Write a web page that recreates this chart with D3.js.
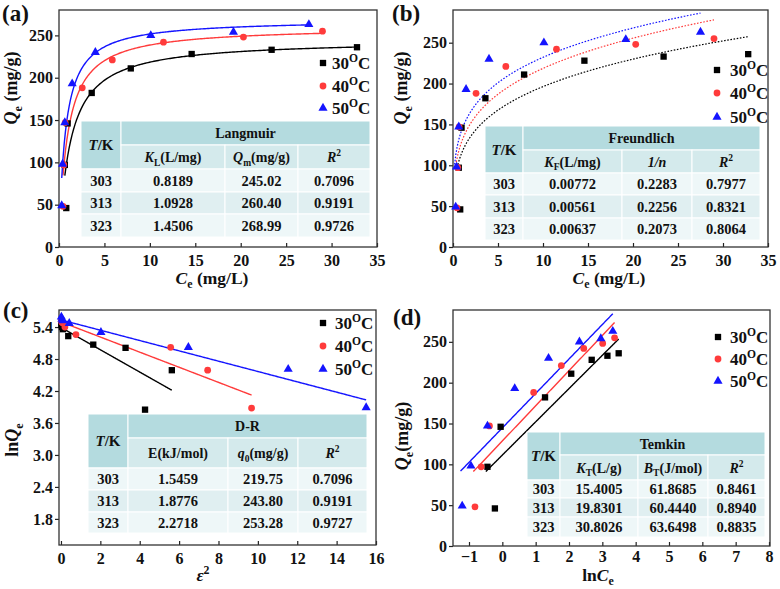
<!DOCTYPE html>
<html>
<head>
<meta charset="utf-8">
<title>Isotherm models</title>
<script src="https://d3js.org/d3.v7.min.js"></script>
<style>
  body { margin: 0; background: #fff; }
  text { font-family: "Liberation Serif", "Times New Roman", serif; font-weight: bold; fill: #111; }
</style>
</head>
<body>
<svg width="780" height="589"></svg>
<script>
// ---- data ----
var temps = ["30", "40", "50"];
var tk = ["303", "313", "323"];

// equilibrium data (Ce mg/L, Qe mg/g)
var ce30 = [0.80, 0.64, 0.95, 3.6, 7.9, 14.6, 23.4, 32.8];
var qe30 = [46, 97, 146, 182, 211, 228, 233, 236];
var ce40 = [0.44, 0.53, 0.68, 2.56, 5.87, 11.5, 20.3, 29.0];
var qe40 = [48, 97, 147, 188, 221, 242, 248, 255];
var ce50 = [0.30, 0.39, 0.64, 1.45, 4.0, 10.1, 19.2, 27.5];
var qe50 = [49, 98, 147, 193, 230, 250, 254, 263];

// D-R plot points (eps^2, lnQe)
var eps30 = [4.27, 5.63, 3.28, 1.64, 0.37, 0.10, 0.05, 0.02];
var lnq30 = [3.85, 4.59, 5.01, 5.07, 5.23, 5.36, 5.40, 5.44];
var eps40 = [9.68, 7.45, 5.57, 0.76, 0.20, 0.07, 0.04, 0.02];
var lnq40 = [3.88, 4.59, 5.02, 5.26, 5.40, 5.48, 5.50, 5.53];
var eps50 = [15.5, 11.54, 6.47, 2.03, 0.42, 0.10, 0.05, 0.02];
var lnq50 = [3.89, 4.61, 5.02, 5.30, 5.47, 5.52, 5.55, 5.59];

// table values
var langKL = ["0.8189", "1.0928", "1.4506"];
var langQm = ["245.02", "260.40", "268.99"];
var langR2 = ["0.7096", "0.9191", "0.9726"];
var frKF = ["0.00772", "0.00561", "0.00637"];
var frN = ["0.2283", "0.2256", "0.2073"];
var frR2 = ["0.7977", "0.8321", "0.8064"];
var drE = ["1.5459", "1.8776", "2.2718"];
var drQ0 = ["219.75", "243.80", "253.28"];
var drR2 = ["0.7096", "0.9191", "0.9727"];
var tmKT = ["15.4005", "19.8301", "30.8026"];
var tmBT = ["61.8685", "60.4440", "63.6498"];
var tmR2 = ["0.8461", "0.8940", "0.8835"];
// Freundlich curve prefactor as drawn (mg/g)
var frCurveK = [116, 130, 144];

var colors = ["#000000", "#ff3b3b", "#1414ff"];
var shapes = [d3.symbolSquare, d3.symbolCircle, d3.symbolTriangle];
var shapeSize = [40, 36, 36];

var svg = d3.select("svg");
var R = 8.314;

function richText(sel, parts, size) {
  // parts: [text, style] style: i, sub, sup
  var shift = 0;
  parts.forEach(function(p) {
    var ts = sel.append("tspan").text(p[0]);
    var st = p[1] || "";
    var target = 0;
    if (st.indexOf("sub") >= 0) target = size * 0.25;
    if (st.indexOf("sup") >= 0) target = -size * 0.42;
    ts.attr("dy", target - shift);
    shift = target;
    if (st.indexOf("sub") >= 0 || st.indexOf("sup") >= 0) ts.style("font-size", (size * 0.68) + "px");
    if (st.indexOf("i") === 0) ts.style("font-style", "italic");
  });
  return sel;
}

function makePanel(cfg) {
  var x = d3.scaleLinear().domain(cfg.xd).range([cfg.l, cfg.r]);
  var y = d3.scaleLinear().domain(cfg.yd).range([cfg.b, cfg.t]);
  var g = svg.append("g");

  var gx = g.append("g").attr("transform", `translate(0,${cfg.b})`)
    .call(d3.axisBottom(x).tickValues(cfg.xt).tickSizeInner(-4).tickSizeOuter(0)
      .tickPadding(cfg.xpad || 8).tickFormat(cfg.xf || d3.format("d")));
  var gy = g.append("g").attr("transform", `translate(${cfg.l},0)`)
    .call(d3.axisLeft(y).tickValues(cfg.yt).tickSize(4).tickPadding(2).tickFormat(cfg.yf || d3.format("d")));
  [gx, gy].forEach(function(a) {
    a.select(".domain").remove();
    a.selectAll("line").attr("stroke", "#222").attr("stroke-width", 1.2);
    a.selectAll("text").style("font-size", "16px").attr("fill", "#111")
      .style("font-family", "'Liberation Serif', serif").style("font-weight", "bold");
  });

  g.append("rect").attr("x", cfg.l).attr("y", cfg.t)
    .attr("width", cfg.r - cfg.l).attr("height", cfg.b - cfg.t)
    .attr("fill", "none").attr("stroke", "#333").attr("stroke-width", 1.3);

  // panel tag
  g.append("text").attr("x", cfg.tag[1]).attr("y", cfg.tag[2]).style("font-size", "23px").text(cfg.tag[0]);

  // axis titles
  richText(g.append("text").attr("x", cfg.xl[0]).attr("y", cfg.xl[1]).attr("text-anchor", "middle")
    .style("font-size", "17.5px"), cfg.xl[2], 17.5);
  richText(g.append("text").attr("transform", `translate(${cfg.yl[0]},${cfg.yl[1]}) rotate(-90)`)
    .attr("text-anchor", "middle").style("font-size", "18px"), cfg.yl[2], 18);

  return {x: x, y: y, g: g};
}

function drawTable(p, cx, ry, title, heads, cols) {
  var head = "#b4dbdf", sub = "#d4eaec", light = "#eef7f8", alt = "#e0eff1";
  var g = p.g.append("g");
  function cell(x0, y0, x1, y1, f) {
    g.append("rect").attr("x", x0).attr("y", y0).attr("width", x1 - x0).attr("height", y1 - y0)
      .attr("fill", f).attr("stroke", "#fff").attr("stroke-width", 1);
  }
  cell(cx[0], ry[0], cx[1], ry[2], head);
  cell(cx[1], ry[0], cx[4], ry[1], head);
  for (var j = 1; j < 4; j++) cell(cx[j], ry[1], cx[j + 1], ry[2], sub);
  for (var i = 0; i < 3; i++)
    for (var k = 0; k < 4; k++) cell(cx[k], ry[i + 2], cx[k + 1], ry[i + 3], i === 1 ? alt : light);

  g.append("text").attr("x", (cx[1] + cx[4]) / 2).attr("y", (ry[0] + ry[1]) / 2 + 5)
    .attr("text-anchor", "middle").style("font-size", "14px").text(title);
  richText(g.append("text").attr("x", (cx[0] + cx[1]) / 2).attr("y", (ry[0] + ry[2]) / 2 + 5)
    .attr("text-anchor", "middle").style("font-size", "15px"), [["T", "i"], ["/K"]], 15);
  heads.forEach(function(h, j) {
    richText(g.append("text").attr("x", (cx[j + 1] + cx[j + 2]) / 2).attr("y", (ry[1] + ry[2]) / 2 + 5)
      .attr("text-anchor", "middle").style("font-size", "14px"), h, 14);
  });
  var all = [tk].concat(cols);
  for (var r = 0; r < 3; r++) {
    all.forEach(function(c, j) {
      g.append("text").attr("x", (cx[j] + cx[j + 1]) / 2).attr("y", (ry[r + 2] + ry[r + 3]) / 2 + 5)
        .attr("text-anchor", "middle").style("font-size", "14.5px").text(c[r]);
    });
  }
}

function drawPoints(p, xs, ys, s) {
  p.g.append("g").selectAll("path").data(d3.range(xs.length)).join("path")
    .attr("transform", function(i) { return `translate(${p.x(xs[i])},${p.y(ys[i])})`; })
    .attr("d", d3.symbol().type(shapes[s]).size(shapeSize[s]))
    .attr("fill", colors[s]);
}

function drawCurve(p, pts, s, dashed) {
  p.g.append("path").datum(pts)
    .attr("d", d3.line().x(function(d) { return p.x(d[0]); }).y(function(d) { return p.y(d[1]); }))
    .attr("fill", "none").attr("stroke", colors[s]).attr("stroke-width", dashed ? 1.2 : 1.4)
    .attr("stroke-dasharray", dashed ? "1.6,1.6" : null);
}

function sampleCurve(a, b, f) {
  var out = [];
  for (var i = 0; i <= 200; i++) {
    var v = a + (b - a) * i / 200;
    out.push([v, f(v)]);
  }
  return out;
}

function drawLegend(p, mx, tx, ys) {
  temps.forEach(function(t, s) {
    p.g.append("path").attr("transform", `translate(${mx},${ys[s]})`)
      .attr("d", d3.symbol().type(shapes[s]).size(shapeSize[s])).attr("fill", colors[s]);
    richText(p.g.append("text").attr("x", tx).attr("y", ys[s] + 6).style("font-size", "17px"),
      [[t], ["O", "sup"], ["C"]], 17);
  });
}

var ceAll = [ce30, ce40, ce50], qeAll = [qe30, qe40, qe50];
var epsAll = [eps30, eps40, eps50], lnqAll = [lnq30, lnq40, lnq50];
var qeLabel = [["Q", "i"], ["e", "sub"], [" (mg/g)"]];
var ceLabel = [["C", "i"], ["e", "sub"], [" (mg/L)"]];
var ceTicks = [0, 5, 10, 15, 20, 25, 30, 35];
var qeTicks = [0, 50, 100, 150, 200, 250];

// (a) Langmuir
var pa = makePanel({l: 59, r: 377, t: 10, b: 247, xd: [0, 35], yd: [0, 280], xt: ceTicks, yt: qeTicks,
  tag: ["(a)", 2, 21], xl: [212, 284, ceLabel], yl: [17, 88, qeLabel]});
[0, 1, 2].forEach(function(s) {
  var kl = +langKL[s], qm = +langQm[s];
  drawCurve(pa, sampleCurve(d3.min(ceAll[s]), d3.max(ceAll[s]), function(c) { return qm * kl * c / (1 + kl * c); }), s);
});
drawTable(pa, [81, 121, 225, 298, 370], [121, 145, 169, 192, 214, 237], "Langmuir",
  [[["K", "i"], ["L", "sub"], ["(L/mg)"]], [["Q", "i"], ["m", "sub"], ["(mg/g)"]], [["R", "i"], ["2", "sup"]]],
  [langKL, langQm, langR2]);
[0, 1, 2].forEach(function(s) { drawPoints(pa, ceAll[s], qeAll[s], s); });
drawLegend(pa, 323, 332, [63, 86, 108]);

// (b) Freundlich
var pb = makePanel({l: 453, r: 768, t: 10, b: 247, xd: [0, 35], yd: [0, 290], xt: ceTicks, yt: qeTicks,
  tag: ["(b)", 392, 21], xl: [609, 284, ceLabel], yl: [407, 88, qeLabel]});
[0, 1, 2].forEach(function(s) {
  var k = frCurveK[s], n = +frN[s];
  drawCurve(pb, sampleCurve(d3.min(ceAll[s]) * 0.6, d3.max(ceAll[s]), function(c) { return k * Math.pow(c, n); }), s, true);
});
drawTable(pb, [485, 523, 622, 692, 760], [126, 150, 173, 195, 218, 240], "Freundlich",
  [[["K", "i"], ["F", "sub"], ["(L/mg)"]], [["1/n", "i"]], [["R", "i"], ["2", "sup"]]],
  [frKF, frN, frR2]);
[0, 1, 2].forEach(function(s) { drawPoints(pb, ceAll[s], qeAll[s], s); });
drawLegend(pb, 717, 730, [70, 93, 117]);

// (c) D-R
var pc = makePanel({l: 59, r: 376, t: 310, b: 545, xd: [-0.1, 16], yd: [1.31, 5.72],
  xt: [0, 2, 4, 6, 8, 10, 12, 14, 16], yt: [1.8, 2.4, 3.0, 3.6, 4.2, 4.8, 5.4], yf: d3.format(".1f"),
  tag: ["(c)", 3, 318], xl: [203, 581, [["ε", "i"], ["2", "sup"]]], yl: [18, 440, [["ln"], ["Q", "i"], ["e", "sub"]]]});
[0, 1, 2].forEach(function(s) {
  var lnq0 = Math.log(+drQ0[s]), beta = 1 / (2 * Math.pow(+drE[s], 2));
  drawCurve(pc, sampleCurve(0, d3.max(epsAll[s]), function(e) { return lnq0 - beta * e; }), s);
});
drawTable(pc, [88, 128, 228, 298, 367], [414, 438, 468, 490, 512, 533], "D-R",
  [[["E(kJ/mol)"]], [["q", "i"], ["0", "sub"], ["(mg/g)"]], [["R", "i"], ["2", "sup"]]],
  [drE, drQ0, drR2]);
[0, 1, 2].forEach(function(s) { drawPoints(pc, epsAll[s], lnqAll[s], s); });
drawLegend(pc, 323, 335, [323, 346, 369]);

// (d) Temkin
var pd = makePanel({l: 453, r: 770, t: 310, b: 546, xd: [-1.48, 8.03], yd: [0, 289],
  xt: d3.range(-1, 9), yt: qeTicks, xpad: 5,
  tag: ["(d)", 393, 325], xl: [598, 581, [["ln"], ["C", "i"], ["e", "sub"]]], yl: [408, 436, [["Q", "i"], ["e", "sub"], ["(mg/g)"]]]});
var lnCeAll = ceAll.map(function(a) { return a.map(function(c) { return Math.log(c); }); });
[0, 1, 2].forEach(function(s) {
  var T = +tk[s], b = R * T / +tmBT[s], a = b * Math.log(+tmKT[s]);
  drawCurve(pd, sampleCurve(d3.min(lnCeAll[s]) - 0.05, d3.max(lnCeAll[s]), function(v) { return a + b * v; }), s);
});
drawTable(pd, [527, 560, 638, 708, 765], [432, 455, 480, 498, 517, 537], "Temkin",
  [[["K", "i"], ["T", "sub"], ["(L/g)"]], [["B", "i"], ["T", "sub"], ["(J/mol)"]], [["R", "i"], ["2", "sup"]]],
  [tmKT, tmBT, tmR2]);
[0, 1, 2].forEach(function(s) { drawPoints(pd, lnCeAll[s], qeAll[s], s); });
drawLegend(pd, 718, 730, [337, 359, 381]);
</script>
</body>
</html>
